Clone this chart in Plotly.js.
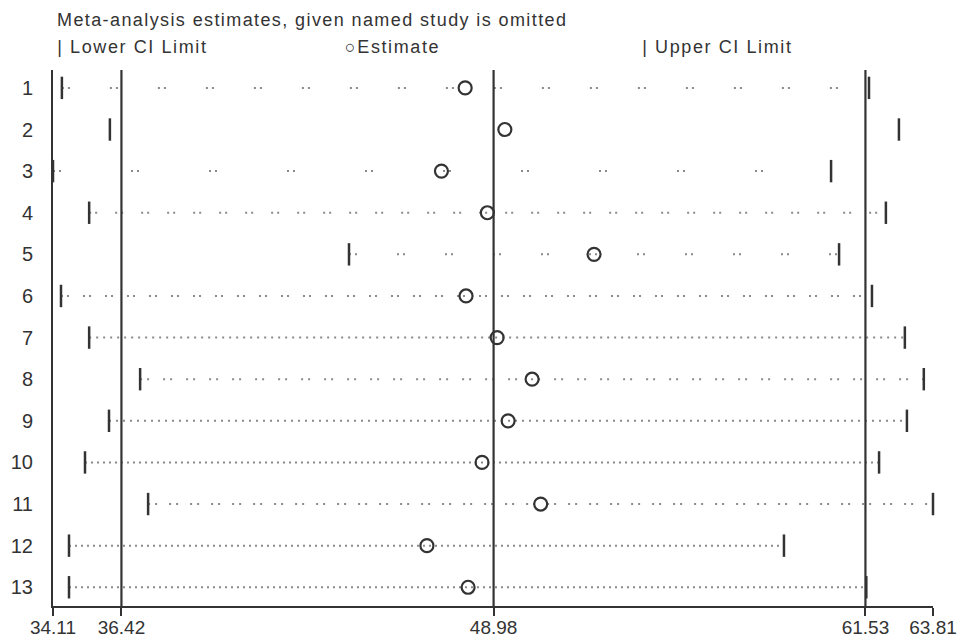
<!DOCTYPE html>
<html>
<head>
<meta charset="utf-8">
<script src="https://cdn.plot.ly/plotly-3.0.1.min.js"></script>
<style>
html,body{margin:0;padding:0;background:#fff;}
#chart{width:976px;height:643px;}
#chart .gtitle{letter-spacing:1.4px;}
#chart .annotation-text{letter-spacing:1.6px;}
</style>
</head>
<body>
<div id="chart"></div>
<script>
// Data: study omitted, meta-analysis estimate and CI limits
const studies   = [1, 2, 3, 4, 5, 6, 7, 8, 9, 10, 11, 12, 13];
const lowerCI   = [34.41, 36.03, 34.11, 35.33, 44.10, 34.38, 35.33, 37.05, 36.00, 35.19, 37.32, 34.65, 34.65];
const estimate  = [48.02, 49.36, 47.22, 48.77, 52.37, 48.05, 49.10, 50.28, 49.47, 48.59, 50.57, 46.73, 48.12];
const upperCI   = [61.65, 62.66, 60.37, 62.22, 60.64, 61.75, 62.86, 63.50, 62.93, 61.99, 63.81, 58.78, 61.56];
// Overall estimate and CI (reference lines)
const overallLower = 36.42;
const overallEst   = 48.98;
const overallUpper = 61.53;
const tickValues = [34.11, 36.42, 48.98, 61.53, 63.81];
const tickLabels = ["34.11", "36.42", "48.98", "61.53", "63.81"];
const titleText = "Meta-analysis estimates, given named study is omitted";
const legendLabels = ["Lower CI Limit", "Estimate", "Upper CI Limit"];

// Style only: dotted-line pattern per row
const rowDash = [
  "2px,4px,2px,40px", "0px,1000px", "2px,4px,2px,70px", "2px,4px,2px,18px",
  "2px,4px,2px,40px", "2px,4px,2px,14px", "2px,5px", "2px,5px,2px,14px",
  "2px,5px", "2px,4px", "2px,5px,2px,12px", "2px,4px", "2px,4px"
];

const ink = "#333333";
const traces = [];
studies.forEach((s, i) => {
  traces.push({
    type: "scatter", mode: "lines",
    x: [lowerCI[i], upperCI[i]], y: [s, s],
    line: {color: "#8a8a8a", width: 2, dash: rowDash[i]},
    hoverinfo: "skip", showlegend: false
  });
});
// reference vertical lines
[overallLower, overallEst, overallUpper].forEach(v => {
  traces.push({
    type: "scatter", mode: "lines",
    x: [v, v], y: [0.57, 13.45],
    line: {color: ink, width: 2.2},
    hoverinfo: "skip", showlegend: false
  });
});
traces.push({
  type: "scatter", mode: "markers", name: legendLabels[0],
  x: lowerCI, y: studies, cliponaxis: false,
  marker: {symbol: "line-ns", size: 16, line: {color: ink, width: 2.5}},
  showlegend: false
});
traces.push({
  type: "scatter", mode: "markers", name: legendLabels[2],
  x: upperCI, y: studies, cliponaxis: false,
  marker: {symbol: "line-ns", size: 16, line: {color: ink, width: 2.5}},
  showlegend: false
});
traces.push({
  type: "scatter", mode: "markers", name: legendLabels[1],
  x: estimate, y: studies, cliponaxis: false,
  marker: {symbol: "circle-open", size: 13, color: ink, line: {color: ink, width: 2.2}},
  showlegend: false
});

const font = {family: "Liberation Sans, Arial, sans-serif", color: ink};
const layout = {
  width: 976, height: 643,
  paper_bgcolor: "#fff", plot_bgcolor: "#fff",
  margin: {l: 53, r: 43, t: 70, b: 37},
  showlegend: false,
  title: {
    text: titleText, xref: "container", yref: "container",
    x: 57/976, xanchor: "left", y: 1 - 20/643, yanchor: "middle",
    font: Object.assign({size: 18}, font)
  },
  xaxis: {
    range: [34.11, 63.81], tickvals: tickValues, ticktext: tickLabels,
    showgrid: false, zeroline: false, showline: true, linecolor: ink, linewidth: 2,
    ticks: "outside", ticklen: 8, tickwidth: 2, tickcolor: ink, ticklabelstandoff: -5,
    tickfont: Object.assign({size: 19}, font)
  },
  yaxis: {
    range: [13.45, 0.57], tickvals: studies, ticktext: studies.map(String),
    showgrid: false, zeroline: false, showline: true, linecolor: ink, linewidth: 2,
    ticks: "", ticklabelstandoff: 14,
    tickfont: Object.assign({size: 20}, font)
  },
  annotations: [
    {text: "| " + legendLabels[0], x: (68-53)/880, xanchor: "left"},
    {text: "○" + legendLabels[1], x: (350-53)/880, xanchor: "left"},
    {text: "| " + legendLabels[2], x: (653-53)/880, xanchor: "left"}
  ].map(a => Object.assign(a, {
    xref: "paper", yref: "paper", y: 1 + 23/536, yanchor: "middle",
    showarrow: false, font: Object.assign({size: 18}, font)
  }))
};
Plotly.newPlot("chart", traces, layout, {displayModeBar: false, staticPlot: true});
</script>
</body>
</html>
